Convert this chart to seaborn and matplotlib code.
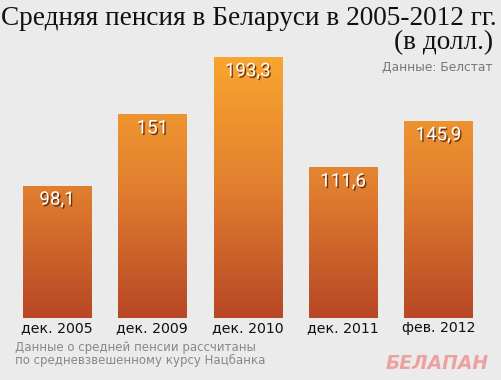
import numpy as np
import pandas as pd
import matplotlib
matplotlib.use("Agg")
import matplotlib.pyplot as plt
import matplotlib.patheffects as pe
from matplotlib.colors import LinearSegmentedColormap
import seaborn as sns

categories = ["дек. 2005", "дек. 2009", "дек. 2010", "дек. 2011", "фев. 2012"]
values = [98.1, 151, 193.3, 111.6, 145.9]
value_labels = ["98,1", "151", "193,3", "111,6", "145,9"]

title = "Средняя пенсия в Беларуси в 2005-2012 гг."
subtitle = "(в долл.)"
source = "Данные: Белстат"
footnote = "Данные о средней пенсии рассчитаны\nпо средневзвешенному курсу Нацбанка"
watermark = "БЕЛАПАН"

sns.set_style("white")
plt.rcParams['font.family'] = ['DejaVu Sans']

W, H = 501, 380
fig = plt.figure(figsize=(W / 100, H / 100), dpi=100)
fig.patch.set_facecolor("#ebebeb")

ymax = 230
ax = fig.add_axes([9.3 / W, 62 / H, 476.7 / W, 310.5 / H])
ax.set_facecolor("none")

df = pd.DataFrame({"cat": categories, "val": values})
sns.barplot(data=df, x="cat", y="val", ax=ax, color="#e08030", width=0.715,
            saturation=1)
ax.set_xlim(-0.5, len(categories) - 0.5)
ax.set_ylim(0, ymax)

cmap = LinearSegmentedColormap.from_list(
    "g", [(0.0, "#b84726"), (0.43, "#e2802f"), (0.84, "#f9a530"), (1.0, "#fbad35")])
grad = np.linspace(0, 1, 256).reshape(-1, 1)
for patch in ax.patches:
    x0, y0 = patch.get_x(), patch.get_y()
    w, h = patch.get_width(), patch.get_height()
    im = ax.imshow(grad, cmap=cmap, aspect="auto", origin="lower",
                   extent=[x0, x0 + w, 0, ymax], vmin=0, vmax=1, zorder=2)
    im.set_clip_path(patch)
    patch.set_facecolor("none")
    patch.set_edgecolor("none")

for i, (v, lab) in enumerate(zip(values, value_labels)):
    ax.text(i, v - 10.5, lab, ha="center", va="center", color="white",
            fontsize=13.5, family="Roboto", zorder=5,
            path_effects=[pe.withSimplePatchShadow(offset=(1, -1.2),
                                                   shadow_rgbFace="#4a200a",
                                                   alpha=0.8)])

ax.set_xlabel("")
ax.set_ylabel("")
ax.set_yticks([])
ax.tick_params(axis="x", length=0, pad=2, labelsize=10.2, labelcolor="#111111")
for s in ax.spines.values():
    s.set_visible(False)

fig.text(497 / W, 1 - 25 / H, title, ha="right", va="baseline",
         family="Liberation Serif", fontsize=19.6, color="#111111")
fig.text(493 / W, 1 - 49 / H, subtitle, ha="right", va="baseline",
         family="Liberation Serif", fontsize=19.6, color="#111111")
fig.text(492 / W, 1 - 71 / H, source, ha="right", va="baseline",
         fontsize=8.8, color="#777777")
fig.text(15 / W, 1 - 364 / H, footnote, ha="left", va="baseline",
         fontsize=8.5, color="#888888", linespacing=0.95)
fig.text(489 / W, 1 - 369 / H, watermark, ha="right", va="baseline",
         fontsize=13.5, color="#ee9090", style="italic", weight="bold", alpha=0.8)

fig.savefig("out.png", dpi=100, facecolor=fig.get_facecolor())
